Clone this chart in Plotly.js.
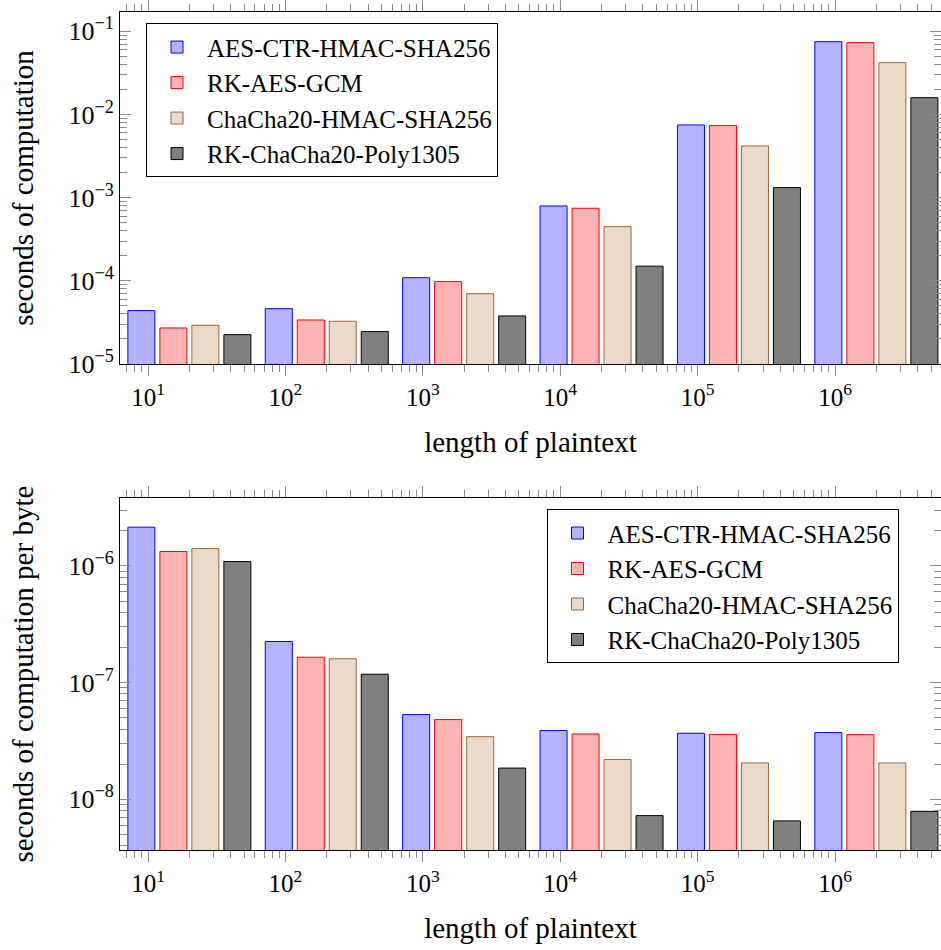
<!DOCTYPE html>
<html><head><meta charset="utf-8">
<script src="https://cdn.plot.ly/plotly-3.0.1.min.js"></script>
<style>body{margin:0;background:#fff}</style>
</head><body><div id="chart" style="width:941px;height:950px"></div>
<script>
// ---- data ----
const lengths = [20, 200, 2000, 20000, 200000, 2000000];
const seriesNames = ['AES-CTR-HMAC-SHA256', 'RK-AES-GCM', 'ChaCha20-HMAC-SHA256', 'RK-ChaCha20-Poly1305'];
const timeAesCtrHmac   = [4.38e-5, 4.62e-5, 1.09e-4, 7.94e-4, 7.48e-3, 7.50e-2];
const timeRkAesGcm     = [2.71e-5, 3.38e-5, 9.77e-5, 7.45e-4, 7.34e-3, 7.30e-2];
const timeChachaHmac   = [2.92e-5, 3.26e-5, 7.00e-5, 4.48e-4, 4.18e-3, 4.20e-2];
const timeRkChachaPoly = [2.25e-5, 2.45e-5, 3.78e-5, 1.50e-4, 1.32e-3, 1.59e-2];
const perByteAesCtrHmac   = [2.15e-6, 2.25e-7, 5.32e-8, 3.88e-8, 3.68e-8, 3.73e-8];
const perByteRkAesGcm     = [1.33e-6, 1.65e-7, 4.82e-8, 3.63e-8, 3.60e-8, 3.58e-8];
const perByteChachaHmac   = [1.41e-6, 1.60e-7, 3.44e-8, 2.19e-8, 2.05e-8, 2.05e-8];
const perByteRkChachaPoly = [1.09e-6, 1.18e-7, 1.85e-8, 7.24e-9, 6.52e-9, 7.88e-9];
const xTickExponents = [1, 2, 3, 4, 5, 6];
const xTickLabels = ['10<sup>1</sup>', '10<sup>2</sup>', '10<sup>3</sup>', '10<sup>4</sup>', '10<sup>5</sup>', '10<sup>6</sup>'];
const yTopTickValues = [1e-5, 1e-4, 1e-3, 1e-2, 1e-1];
const yTopTickLabels = ['10<sup>−5</sup>', '10<sup>−4</sup>', '10<sup>−3</sup>', '10<sup>−2</sup>', '10<sup>−1</sup>'];
const yBotTickValues = [1e-8, 1e-7, 1e-6];
const yBotTickLabels = ['10<sup>−8</sup>', '10<sup>−7</sup>', '10<sup>−6</sup>'];

// ---- styles ----
const fills = ['#b3b3ff', '#ffb3b3', '#ead9c6', '#808080'];
const lines = ['#0000ff', '#ff0000', '#99663a', '#000000'];
const FONT = 'Liberation Serif, Times New Roman, serif';

const xPos = lengths.map(v => Math.log10(v));
const topSeries = [timeAesCtrHmac, timeRkAesGcm, timeChachaHmac, timeRkChachaPoly];
const botSeries = [perByteAesCtrHmac, perByteRkAesGcm, perByteChachaHmac, perByteRkChachaPoly];

const traces = [];
topSeries.forEach((ys, i) => traces.push({
  type: 'bar', x: xPos, y: ys, name: seriesNames[i], xaxis: 'x', yaxis: 'y', legend: 'legend',
  marker: {color: fills[i], line: {color: lines[i], width: 1}}, hoverinfo: 'skip'
}));
botSeries.forEach((ys, i) => traces.push({
  type: 'bar', x: xPos, y: ys, name: seriesNames[i], xaxis: 'x2', yaxis: 'y2', legend: 'legend2',
  marker: {color: fills[i], line: {color: lines[i], width: 1}}, hoverinfo: 'skip'
}));

// minor tick positions (log decades)
const xMinor = [];
for (let k = 0; k <= 7; k++) for (let m = 2; m <= 9; m++) xMinor.push(Math.log10(m) + k);
function yMinor(lo, hi) { const a = []; for (let k = lo; k <= hi; k++) for (let m = 2; m <= 9; m++) a.push(m * Math.pow(10, k)); return a; }

const xRange = [0.7962, 6.7715];
function xAxis(anchor) {
  return {
    anchor: anchor, range: xRange, type: 'linear',
    tickmode: 'array', tickvals: xTickExponents, ticktext: xTickLabels,
    ticks: 'outside', ticklen: 11, tickwidth: 1, tickcolor: '#8a8a8a',
    showline: true, linecolor: '#000', linewidth: 1, mirror: 'ticks',
    showgrid: false, zeroline: false,
    minor: {tickmode: 'array', tickvals: xMinor, ticks: 'outside', ticklen: 7, tickwidth: 1, tickcolor: '#8a8a8a', showgrid: false},
    tickfont: {family: FONT, size: 25, color: '#000'},
    title: {text: 'length of plaintext', font: {family: FONT, size: 29, color: '#000'}, standoff: 21}
  };
}
function yAxis(domain, range, tv, tt, title, minorLo, minorHi) {
  return {
    domain: domain, type: 'log', range: range,
    tickmode: 'array', tickvals: tv, ticktext: tt,
    ticks: 'inside', ticklen: 11, tickwidth: 1, tickcolor: '#8a8a8a',
    showline: true, linecolor: '#000', linewidth: 1, mirror: 'ticks',
    showgrid: false, zeroline: false,
    minor: {tickmode: 'array', tickvals: yMinor(minorLo, minorHi), ticks: 'inside', ticklen: 7, tickwidth: 1, tickcolor: '#8a8a8a', showgrid: false},
    tickfont: {family: FONT, size: 26, color: '#000'},
    title: {text: title, font: {family: FONT, size: 29, color: '#000'}, standoff: 26}
  };
}

const legendCommon = {
  xanchor: 'left', yanchor: 'top', bgcolor: '#fff', bordercolor: '#000', borderwidth: 1,
  font: {family: FONT, size: 25, color: '#000'}, tracegroupgap: 0, itemwidth: 50
};

const layout = {
  width: 941, height: 950,
  margin: {l: 120, r: 0, t: 12, b: 100},
  paper_bgcolor: '#fff', plot_bgcolor: '#fff',
  barmode: 'group', bargap: 0.0684, bargroupgap: 0.156,
  showlegend: true,
  xaxis: xAxis('y'),
  xaxis2: xAxis('y2'),
  yaxis: yAxis([0.58, 1], [-5, -0.768], yTopTickValues, yTopTickLabels, 'seconds of computation', -6, -1),
  yaxis2: yAxis([0, 0.4197], [-8.435, -5.42], yBotTickValues, yBotTickLabels, 'seconds of computation per byte', -9, -6),
  legend: Object.assign({x: 0.0317, y: 0.9865}, legendCommon),
  legend2: Object.assign({x: 0.5195, y: 0.4066}, legendCommon)
};

Plotly.newPlot('chart', traces, layout, {staticPlot: true, displayModeBar: false});
</script>
</body></html>
